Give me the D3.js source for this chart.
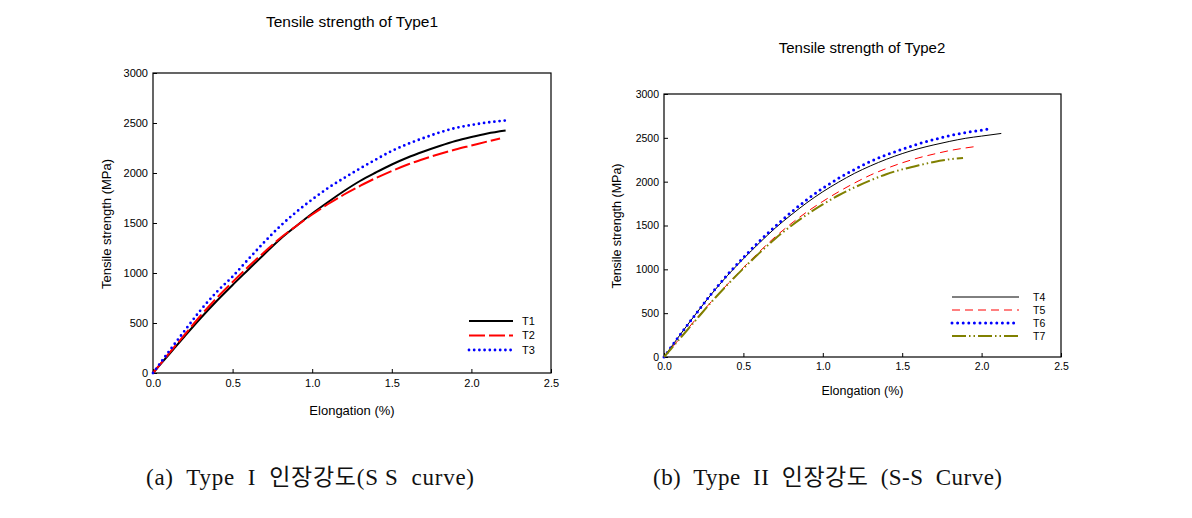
<!DOCTYPE html>
<html><head><meta charset="utf-8">
<script src="https://cdn.jsdelivr.net/npm/d3@7"></script>
<style>
body{margin:0;background:#fff;}
svg{display:block;}
text{font-family:Arial,"Liberation Sans",sans-serif;}
.cap{white-space:pre;}
</style></head>
<body><svg id="c" width="1192" height="518"></svg>
<script>
// ---- data ----
const xTicks = [0.0, 0.5, 1.0, 1.5, 2.0, 2.5];
const yTicks = [0, 500, 1000, 1500, 2000, 2500, 3000];

const t1x = [0,0.1,0.2,0.3,0.4,0.5,0.6,0.7,0.8,0.9,1.0,1.1,1.2,1.3,1.4,1.5,1.6,1.7,1.8,1.9,2.0,2.1,2.215];
const t1y = [0,185,370,550,720,880,1035,1190,1340,1470,1595,1710,1820,1920,2005,2085,2155,2215,2270,2320,2360,2395,2425];
const t2x = [0,0.1,0.2,0.3,0.4,0.5,0.6,0.7,0.8,0.9,1.0,1.1,1.2,1.3,1.4,1.5,1.6,1.7,1.8,1.9,2.0,2.1,2.18];
const t2y = [0,195,385,575,750,910,1065,1210,1350,1470,1585,1690,1785,1870,1950,2020,2085,2140,2190,2235,2275,2315,2345];
const t3x = [0,0.1,0.2,0.3,0.4,0.5,0.6,0.7,0.8,0.9,1.0,1.1,1.2,1.3,1.4,1.5,1.6,1.7,1.8,1.9,2.0,2.1,2.215];
const t3y = [0,215,425,630,810,965,1140,1310,1470,1610,1735,1850,1950,2045,2135,2220,2290,2350,2405,2450,2480,2505,2525];

const t4x = [0,0.1,0.2,0.3,0.4,0.5,0.6,0.7,0.8,0.9,1.0,1.1,1.2,1.3,1.4,1.5,1.6,1.7,1.8,1.9,2.0,2.124];
const t4y = [0,250,490,720,930,1120,1300,1470,1620,1760,1885,1995,2095,2180,2255,2320,2375,2420,2460,2495,2520,2550];
const t5x = [0,0.1,0.2,0.3,0.4,0.5,0.6,0.7,0.8,0.9,1.0,1.1,1.2,1.3,1.4,1.5,1.6,1.7,1.8,1.9,1.98];
const t5y = [0,215,430,635,830,1020,1200,1370,1520,1655,1775,1885,1985,2075,2150,2215,2270,2315,2355,2385,2405];
const t6x = [0,0.1,0.2,0.3,0.4,0.5,0.6,0.7,0.8,0.9,1.0,1.1,1.2,1.3,1.4,1.5,1.6,1.7,1.8,1.9,2.047];
const t6y = [0,250,490,725,940,1135,1320,1490,1650,1795,1925,2040,2140,2230,2305,2370,2430,2480,2525,2560,2600];
const t7x = [0,0.1,0.2,0.3,0.4,0.5,0.6,0.7,0.8,0.9,1.0,1.1,1.2,1.3,1.4,1.5,1.6,1.7,1.8,1.883];
const t7y = [0,210,420,630,825,1010,1185,1350,1495,1625,1740,1845,1935,2015,2085,2140,2185,2225,2255,2270];

const titles = ["Tensile strength of Type1", "Tensile strength of Type2"];
const xLabel = "Elongation (%)";
const yLabel = "Tensile strength (MPa)";
const captions = ["(a)  Type  I  인장강도(S S  curve)", "(b)  Type  II  인장강도  (S-S  Curve)"];

// ---- drawing ----
const svg = d3.select("#c");
const fmtX = d3.format(".1f");
const fmtY = d3.format("d");

function chart(cfg) {
  const x = d3.scaleLinear().domain([0, 2.5]).range([cfg.x0, cfg.x1]);
  const y = d3.scaleLinear().domain([0, 3000]).range([cfg.y0, cfg.y1]);
  const g = svg.append("g");

  g.append("text").attr("x", cfg.tx).attr("y", cfg.ty).attr("text-anchor", "middle")
    .attr("font-size", cfg.titleSize).text(cfg.title);

  const ax = g.append("g").attr("transform", `translate(0,${cfg.y0})`)
    .call(d3.axisBottom(x).tickValues(xTicks).tickFormat(fmtX).tickSizeInner(-4).tickSizeOuter(0).tickPadding(6));
  const ay = g.append("g").attr("transform", `translate(${cfg.x0},0)`)
    .call(d3.axisLeft(y).tickValues(yTicks).tickFormat(fmtY).tickSizeInner(-4).tickSizeOuter(0).tickPadding(5));
  [ax, ay].forEach(a => {
    a.select(".domain").remove();
    a.selectAll("text").attr("font-size", cfg.tickSize).attr("fill", "#000")
      .attr("font-family", "Arial, 'Liberation Sans', sans-serif");
    a.selectAll("line").attr("stroke", "#000");
  });
  g.append("rect").attr("x", cfg.x0).attr("y", cfg.y1).attr("width", cfg.x1 - cfg.x0)
    .attr("height", cfg.y0 - cfg.y1).attr("fill", "none").attr("stroke", "#000").attr("stroke-width", 1.2);

  g.append("text").attr("x", (cfg.x0 + cfg.x1) / 2).attr("y", cfg.xly).attr("text-anchor", "middle")
    .attr("font-size", cfg.labelSize).text(xLabel);
  g.append("text").attr("transform", `translate(${cfg.ylx},${cfg.yly}) rotate(-90)`).attr("text-anchor", "middle")
    .attr("font-size", cfg.labelSize).text(yLabel);

  const line = d3.line().x(d => x(d[0])).y(d => y(d[1])).curve(d3.curveMonotoneX);
  cfg.series.forEach((s, i) => {
    const pts = s.xs.map((v, k) => [v, s.ys[k]]);
    g.append("path").datum(pts).attr("d", line).attr("fill", "none")
      .attr("stroke", s.color).attr("stroke-width", s.w)
      .attr("stroke-dasharray", s.dash || null).attr("stroke-linecap", s.cap || "butt");
    const ly = cfg.legY + i * cfg.legDy;
    g.append("line").attr("x1", cfg.legX0).attr("x2", cfg.legX1).attr("y1", ly).attr("y2", ly)
      .attr("stroke", s.color).attr("stroke-width", s.w)
      .attr("stroke-dasharray", s.dash || null).attr("stroke-linecap", s.cap || "butt");
    g.append("text").attr("x", cfg.legTx).attr("y", ly).attr("dy", "0.35em")
      .attr("font-size", cfg.tickSize).text(s.name);
  });

  svg.append("text").attr("class", "cap").attr("x", cfg.capX).attr("y", 485).attr("font-size", 23)
    .style("font-family", "'Liberation Serif', 'Noto Sans CJK KR', serif")
    .attr("textLength", cfg.capW).attr("lengthAdjust", "spacing")
    .attr("fill", "#111").text(cfg.caption);
}

chart({
  x0: 153, x1: 551, y0: 373, y1: 73, title: titles[0], tx: 352, ty: 27, titleSize: 15.5,
  tickSize: 11, labelSize: 13, xly: 415, ylx: 111, yly: 224,
  legX0: 469, legX1: 513, legTx: 522, legY: 321, legDy: 14.5,
  caption: captions[0], capX: 146, capW: 328,
  series: [
    {name: "T1", xs: t1x, ys: t1y, color: "#000", w: 2},
    {name: "T2", xs: t2x, ys: t2y, color: "#ff0000", w: 2, dash: "16,4"},
    {name: "T3", xs: t3x, ys: t3y, color: "#0000ff", w: 2.8, dash: "0,5.2", cap: "round"}
  ]
});
chart({
  x0: 664, x1: 1061, y0: 357, y1: 94, title: titles[1], tx: 862, ty: 53, titleSize: 15,
  tickSize: 10.5, labelSize: 12.5, xly: 395, ylx: 621, yly: 226,
  legX0: 952, legX1: 1019, legTx: 1033, legY: 297, legDy: 13,
  caption: captions[1], capX: 653, capW: 349,
  series: [
    {name: "T4", xs: t4x, ys: t4y, color: "#000", w: 1},
    {name: "T5", xs: t5x, ys: t5y, color: "#ff0000", w: 1, dash: "8,5"},
    {name: "T6", xs: t6x, ys: t6y, color: "#0000ff", w: 3, dash: "0,5.6", cap: "round"},
    {name: "T7", xs: t7x, ys: t7y, color: "#808000", w: 2, dash: "14,3,1.5,3,1.5,3"}
  ]
});
</script></body></html>
